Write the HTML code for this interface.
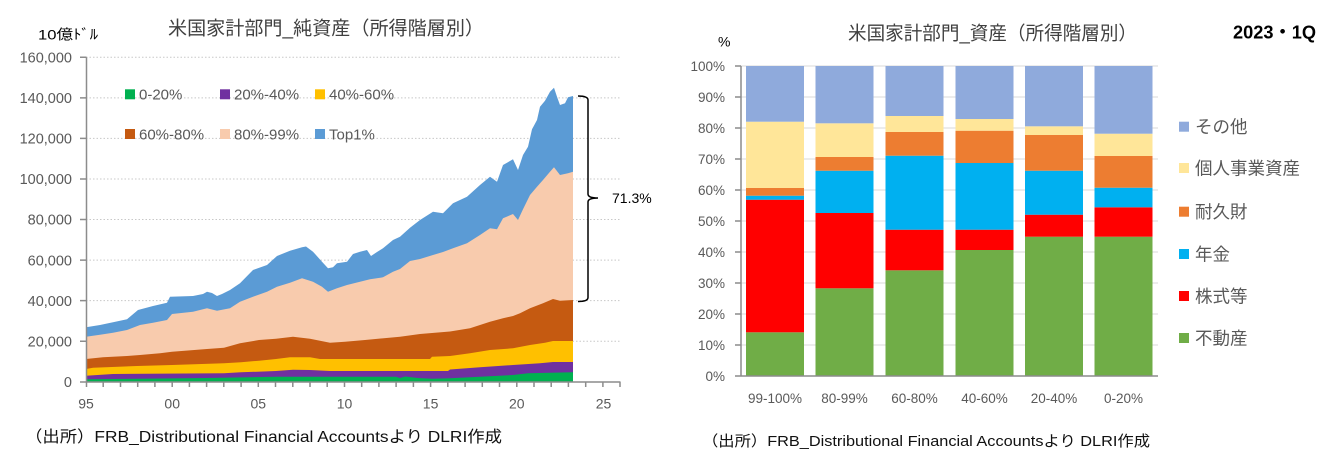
<!DOCTYPE html>
<html>
<head>
<meta charset="utf-8">
<style>
html,body{margin:0;padding:0;background:#fff;width:1336px;height:455px;overflow:hidden}
svg text{font-family:"Liberation Sans","Noto Sans CJK JP",sans-serif}
</style>
</head>
<body>
<svg width="1336" height="455" viewBox="0 0 1336 455" xmlns="http://www.w3.org/2000/svg">
<rect width="1336" height="455" fill="#fff"/>

<!-- ================= LEFT CHART ================= -->
<!-- gridlines -->
<g stroke="#c8c8c8" stroke-width="1" stroke-dasharray="1.5,2">
<line x1="86" y1="57.3" x2="620" y2="57.3"/>
<line x1="86" y1="97.9" x2="620" y2="97.9"/>
<line x1="86" y1="138.4" x2="620" y2="138.4"/>
<line x1="86" y1="179" x2="620" y2="179"/>
<line x1="86" y1="219.5" x2="620" y2="219.5"/>
<line x1="86" y1="260.1" x2="620" y2="260.1"/>
<line x1="86" y1="300.6" x2="620" y2="300.6"/>
<line x1="86" y1="341.2" x2="620" y2="341.2"/>
</g>

<!-- stacked areas -->
<polygon fill="#5B9BD5" points="86,327.3 100,325 113,322.3 127,319.3 138,310 153,306 167,302.7 170,296.7 193,296 203,294 207,291.7 212,293 217,296 222,294 230,290 240,283.3 253,270 267,265 277,256 290,250.7 302,247.3 306,246.5 313,251.7 322,261.7 328,268.3 333,267.3 337,263.3 347,261.7 353,254 360,251.7 367,250 371,256 377,252 383,248.3 393,240 400,236.7 410,227.7 420,220 433,211.7 443,213.3 453,203.3 467,196.7 480,185 490,176.7 497,181.7 503,165 513,159.3 518,170 523,155 528,146.7 532,129.3 537,120 540,106.7 545,100.7 550,91.7 554,87.7 557,96.7 560,105 565,103.3 568,97.3 573,96 573,382 86,382"/>
<polygon fill="#F8CBAD" points="86,336.7 100,334.7 113,332.7 127,330 140,325 153,322.7 167,320 172,314 193,311.7 207,308.3 217,310.7 230,308.3 240,301.7 253,296.7 267,291.7 277,286.7 290,282.7 302,278.3 313,281.7 322,286.7 328,291.7 337,288.3 347,285 360,281.7 370,279.3 383,277.3 393,271.7 400,269 410,261 420,259 433,255 443,252 453,248.3 467,243.3 480,235 490,228.3 497,229.3 503,218.3 513,214 518,220 523,209.3 530,195 537,186.7 543,180 550,171.7 554,167.3 560,175 568,173.3 573,171.7 573,382 86,382"/>
<polygon fill="#C55A11" points="86,359 103,357.3 127,356 140,355 160,353.3 172,351.7 207,349 224,347.7 240,343.3 259,340 276,338.7 293,336.7 310,338.7 330,342.7 345,341.7 365,340 400,336.7 420,334 450,331.5 470,328.3 490,321.7 503,318.3 513,316 520,313.3 530,308.3 543,303.3 553,299 560,300.7 573,300 573,382 86,382"/>
<polygon fill="#FFC000" points="86,369 93,367.7 137,366 172,365 224,363.3 241,362.3 259,360.7 276,359 290,357.3 310,357.3 320,359 430,359 432,356.7 450,356 470,353.3 490,350 513,348.3 530,345 545,342.7 553,341 573,341 573,382 86,382"/>
<polygon fill="#7030A0" points="86,375.7 113,374 224,373.3 241,372.3 276,371 293,369.7 310,370 330,371 448,371 450,369.5 480,367.3 513,365 540,363.3 553,362 573,362 573,382 86,382"/>
<polygon fill="#00B050" points="86,379.3 207,378 276,376.7 396,376.7 400,378 405,376.5 418,378 432,378.7 450,378.3 480,376.7 513,375 528,373.3 573,372.3 573,382 86,382"/>

<!-- axes -->
<g stroke="#8c8c8c" stroke-width="1.5" fill="none">
<line x1="86.5" y1="57.3" x2="86.5" y2="382"/>
<line x1="86" y1="382" x2="620.5" y2="382"/>
<path d="M80,57.3H86.5 M80,97.9H86.5 M80,138.4H86.5 M80,179H86.5 M80,219.5H86.5 M80,260.1H86.5 M80,300.6H86.5 M80,341.2H86.5 M80,382H86.5"/>
<path d="M86.5,382v5 M103.2,382v5 M120.5,382v5 M137.7,382v5 M154.9,382v5 M172.2,382v5 M189.4,382v5 M206.6,382v5 M223.8,382v5 M241.1,382v5 M258.3,382v5 M275.5,382v5 M292.8,382v5 M310,382v5 M327.2,382v5 M344.5,382v5 M361.7,382v5 M378.9,382v5 M396.1,382v5 M413.4,382v5 M430.6,382v5 M447.8,382v5 M465.1,382v5 M482.3,382v5 M499.5,382v5 M516.8,382v5 M534,382v5 M551.2,382v5 M568.4,382v5 M585.7,382v5 M602.9,382v5 M620,382v5"/>
</g>

<!-- y labels -->
<g font-size="14.5" fill="#595959" text-anchor="end">
<text x="72" y="62.5">160,000</text>
<text x="72" y="103.1">140,000</text>
<text x="72" y="143.6">120,000</text>
<text x="72" y="184.2">100,000</text>
<text x="72" y="224.7">80,000</text>
<text x="72" y="265.3">60,000</text>
<text x="72" y="305.8">40,000</text>
<text x="72" y="346.4">20,000</text>
<text x="72" y="386.9">0</text>
</g>
<!-- x labels -->
<g font-size="14" fill="#595959" text-anchor="middle">
<text x="86" y="408.5">95</text>
<text x="172.2" y="408.5">00</text>
<text x="258.3" y="408.5">05</text>
<text x="344.5" y="408.5">10</text>
<text x="430.6" y="408.5">15</text>
<text x="516.8" y="408.5">20</text>
<text x="603.5" y="408.5">25</text>
</g>

<!-- left title / unit -->
<text x="168" y="34.5" font-size="19" fill="#404040" textLength="316" lengthAdjust="spacingAndGlyphs">米国家計部門_純資産（所得階層別）</text>
<text x="38" y="39.5" font-size="14" fill="#000" textLength="60" lengthAdjust="spacingAndGlyphs">10億ﾄﾞﾙ</text>

<!-- legend left -->
<rect x="125" y="89.3" width="10" height="10" fill="#00B050"/>
<text x="139" y="99.6" font-size="15" fill="#595959">0-20%</text>
<rect x="220" y="89.3" width="10" height="10" fill="#7030A0"/>
<text x="234" y="99.6" font-size="15" fill="#595959">20%-40%</text>
<rect x="315" y="89.3" width="10" height="10" fill="#FFC000"/>
<text x="329" y="99.6" font-size="15" fill="#595959">40%-60%</text>
<rect x="125" y="129" width="10" height="10" fill="#C55A11"/>
<text x="139" y="139.3" font-size="15" fill="#595959">60%-80%</text>
<rect x="220" y="129" width="10" height="10" fill="#F8CBAD"/>
<text x="234" y="139.3" font-size="15" fill="#595959">80%-99%</text>
<rect x="315" y="129" width="10" height="10" fill="#5B9BD5"/>
<text x="329" y="139.3" font-size="15" fill="#595959">Top1%</text>

<!-- bracket -->
<path d="M578,96 Q588,96 588,100 V194 Q588,198 598,198 Q588,198 588,202 V297.5 Q588,301.5 578,301.5" fill="none" stroke="#000" stroke-width="1.5"/>
<text x="612" y="203" font-size="14" fill="#000">71.3%</text>

<!-- left source -->
<text x="25" y="442" font-size="16" fill="#111" textLength="477" lengthAdjust="spacingAndGlyphs">（出所）FRB_Distributional Financial Accountsより DLRI作成</text>

<!-- ================= RIGHT CHART ================= -->
<g stroke="#d9d9d9" stroke-width="1">
<line x1="741" y1="66" x2="1158" y2="66"/>
<line x1="741" y1="97" x2="1158" y2="97"/>
<line x1="741" y1="128" x2="1158" y2="128"/>
<line x1="741" y1="159" x2="1158" y2="159"/>
<line x1="741" y1="190" x2="1158" y2="190"/>
<line x1="741" y1="221" x2="1158" y2="221"/>
<line x1="741" y1="252" x2="1158" y2="252"/>
<line x1="741" y1="283" x2="1158" y2="283"/>
<line x1="741" y1="314" x2="1158" y2="314"/>
<line x1="741" y1="345" x2="1158" y2="345"/>
</g>

<!-- bars: green, red, blue, orange, yellow, other -->
<g>
<!-- bar1 -->
<rect x="746" y="332.3" width="58" height="43.7" fill="#70AD47"/>
<rect x="746" y="199.7" width="58" height="132.6" fill="#FF0000"/>
<rect x="746" y="195.7" width="58" height="4" fill="#00B0F0"/>
<rect x="746" y="188" width="58" height="7.7" fill="#ED7D31"/>
<rect x="746" y="121.7" width="58" height="66.3" fill="#FFE699"/>
<rect x="746" y="66" width="58" height="55.7" fill="#8FAADC"/>
<!-- bar2 -->
<rect x="815.5" y="288.3" width="58" height="87.7" fill="#70AD47"/>
<rect x="815.5" y="213" width="58" height="75.3" fill="#FF0000"/>
<rect x="815.5" y="170.7" width="58" height="42.3" fill="#00B0F0"/>
<rect x="815.5" y="157" width="58" height="13.7" fill="#ED7D31"/>
<rect x="815.5" y="123.3" width="58" height="33.7" fill="#FFE699"/>
<rect x="815.5" y="66" width="58" height="57.3" fill="#8FAADC"/>
<!-- bar3 -->
<rect x="885.5" y="270.3" width="58" height="105.7" fill="#70AD47"/>
<rect x="885.5" y="229.7" width="58" height="40.6" fill="#FF0000"/>
<rect x="885.5" y="155.7" width="58" height="74" fill="#00B0F0"/>
<rect x="885.5" y="132" width="58" height="23.7" fill="#ED7D31"/>
<rect x="885.5" y="116" width="58" height="16" fill="#FFE699"/>
<rect x="885.5" y="66" width="58" height="50" fill="#8FAADC"/>
<!-- bar4 -->
<rect x="955.5" y="250" width="58" height="126" fill="#70AD47"/>
<rect x="955.5" y="229.7" width="58" height="20.3" fill="#FF0000"/>
<rect x="955.5" y="163" width="58" height="66.7" fill="#00B0F0"/>
<rect x="955.5" y="130.7" width="58" height="32.3" fill="#ED7D31"/>
<rect x="955.5" y="119" width="58" height="11.7" fill="#FFE699"/>
<rect x="955.5" y="66" width="58" height="53" fill="#8FAADC"/>
<!-- bar5 -->
<rect x="1025" y="236.7" width="58" height="139.3" fill="#70AD47"/>
<rect x="1025" y="214.7" width="58" height="22" fill="#FF0000"/>
<rect x="1025" y="170.7" width="58" height="44" fill="#00B0F0"/>
<rect x="1025" y="135" width="58" height="35.7" fill="#ED7D31"/>
<rect x="1025" y="126.3" width="58" height="8.7" fill="#FFE699"/>
<rect x="1025" y="66" width="58" height="60.3" fill="#8FAADC"/>
<!-- bar6 -->
<rect x="1094.5" y="236.7" width="58" height="139.3" fill="#70AD47"/>
<rect x="1094.5" y="207.3" width="58" height="29.4" fill="#FF0000"/>
<rect x="1094.5" y="187.7" width="58" height="19.6" fill="#00B0F0"/>
<rect x="1094.5" y="156" width="58" height="31.7" fill="#ED7D31"/>
<rect x="1094.5" y="133.7" width="58" height="22.3" fill="#FFE699"/>
<rect x="1094.5" y="66" width="58" height="67.7" fill="#8FAADC"/>
</g>

<!-- right axes -->
<g stroke="#8c8c8c" stroke-width="1.5" fill="none">
<line x1="741" y1="66" x2="741" y2="376"/>
<line x1="741" y1="376" x2="1158" y2="376"/>
<path d="M735,66H741 M735,97H741 M735,128H741 M735,159H741 M735,190H741 M735,221H741 M735,252H741 M735,283H741 M735,314H741 M735,345H741 M735,376H741"/>
</g>

<g font-size="13.5" fill="#595959" text-anchor="end">
<text x="725" y="70.8">100%</text>
<text x="725" y="101.8">90%</text>
<text x="725" y="132.8">80%</text>
<text x="725" y="163.8">70%</text>
<text x="725" y="194.8">60%</text>
<text x="725" y="225.8">50%</text>
<text x="725" y="256.8">40%</text>
<text x="725" y="287.8">30%</text>
<text x="725" y="318.8">20%</text>
<text x="725" y="349.8">10%</text>
<text x="725" y="380.8">0%</text>
</g>
<g font-size="13.5" fill="#595959" text-anchor="middle">
<text x="775" y="403">99-100%</text>
<text x="844.5" y="403">80-99%</text>
<text x="914.5" y="403">60-80%</text>
<text x="984.5" y="403">40-60%</text>
<text x="1054" y="403">20-40%</text>
<text x="1123.5" y="403">0-20%</text>
</g>

<text x="718" y="46.5" font-size="14" fill="#000">%</text>
<text x="848" y="39.5" font-size="19" fill="#404040" textLength="289" lengthAdjust="spacingAndGlyphs">米国家計部門_資産（所得階層別）</text>
<text x="1233" y="38.3" font-size="18" font-weight="bold" fill="#000" textLength="83" lengthAdjust="spacingAndGlyphs">2023・1Q</text>

<!-- right legend -->
<g font-size="17.5" fill="#595959">
<rect x="1179" y="121.7" width="10" height="10" fill="#8FAADC"/>
<text x="1195" y="133.2">その他</text>
<rect x="1179" y="163" width="10" height="10" fill="#FFE699"/>
<text x="1195" y="174.5">個人事業資産</text>
<rect x="1179" y="206.7" width="10" height="10" fill="#ED7D31"/>
<text x="1195" y="218.2">耐久財</text>
<rect x="1179" y="249" width="10" height="10" fill="#00B0F0"/>
<text x="1195" y="260.5">年金</text>
<rect x="1179" y="291" width="10" height="10" fill="#FF0000"/>
<text x="1195" y="302.5">株式等</text>
<rect x="1179" y="333" width="10" height="10" fill="#70AD47"/>
<text x="1195" y="344.5">不動産</text>
</g>

<!-- right source -->
<text x="702" y="446" font-size="15" fill="#111" textLength="448" lengthAdjust="spacingAndGlyphs">（出所）FRB_Distributional Financial Accountsより DLRI作成</text>

</svg>
</body>
</html>
